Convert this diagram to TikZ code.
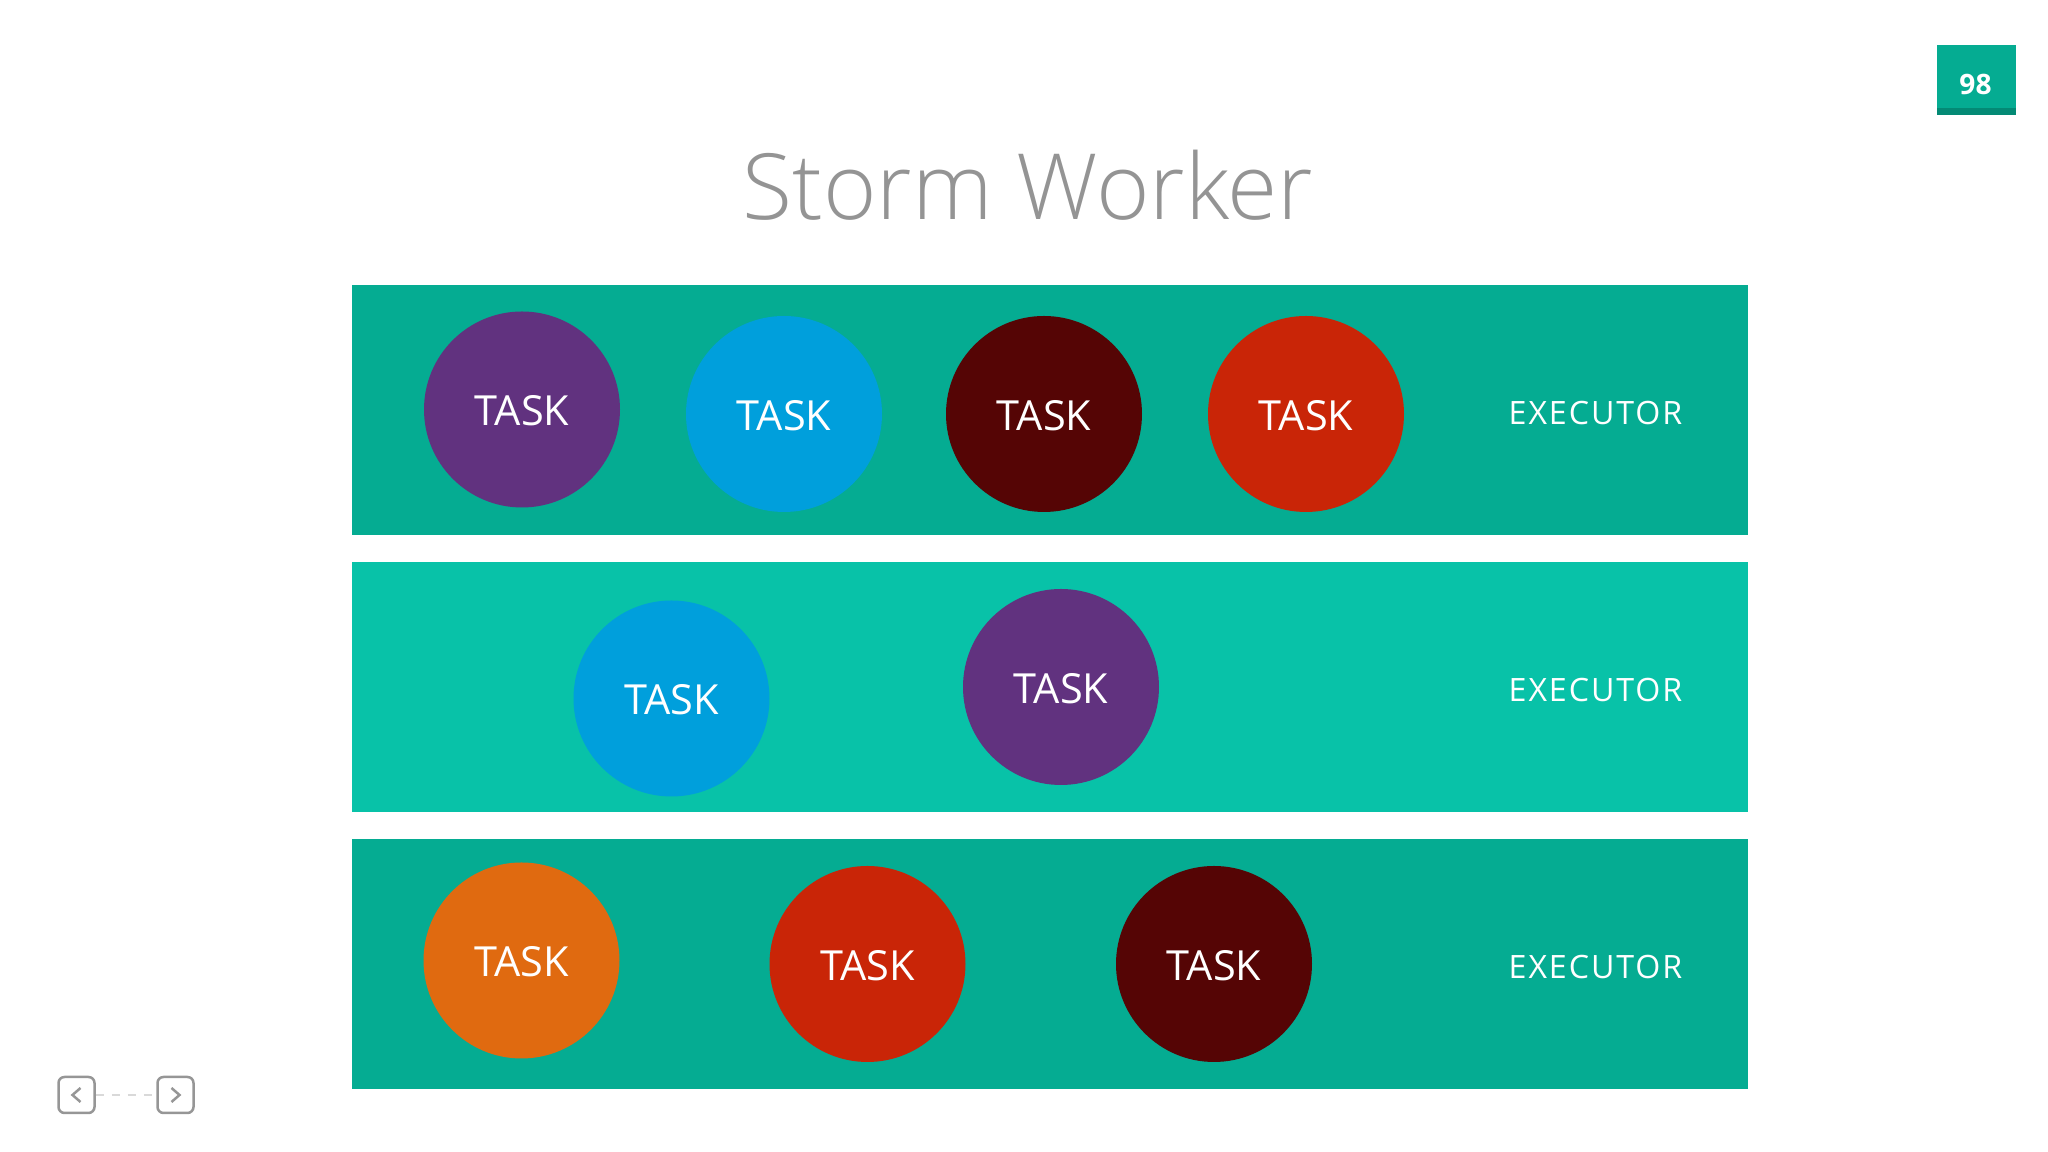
\documentclass[tikz,border=0pt]{standalone}
\usepackage{fontspec}
\setmainfont{Open Sans}
\newfontfamily\titlefont{Open Sans Light}
\newfontfamily\execfont[LetterSpace=6]{Open Sans}
\definecolor{banddark}{HTML}{05AC92}
\definecolor{bandlight}{HTML}{08C2A8}
\definecolor{taskpurple}{HTML}{61327F}
\definecolor{taskblue}{HTML}{009FDC}
\definecolor{taskmaroon}{HTML}{550505}
\definecolor{taskred}{HTML}{C92507}
\definecolor{taskorange}{HTML}{E06A10}
\definecolor{titlegray}{HTML}{949494}
\definecolor{navgray}{HTML}{969696}
\tikzset{
	band/.style={minimum width=14cm-0.04cm, minimum height=2.5cm, inner sep=0},
	task/.style={circle, minimum size=1.96cm, inner sep=0, text=white, text height=0.33cm, text depth=0cm, font=\fontsize{11.8}{14}\selectfont},
	execlabel/.style={text=white, font=\fontsize{9.15}{12}\execfont},
	navbox/.style={draw=navgray, line width=0.25mm, rounded corners=0.06cm, minimum size=0.36cm, inner sep=0}
}
\begin{document}
\begin{tikzpicture}
\useasboundingbox (0,0) rectangle (20.48,11.52);
\node[band, fill=banddark] (bandA) at (10.50,7.415){};
\node[band, fill=bandlight] (bandB) at (10.50,4.645){};
\node[band, fill=banddark] (bandC) at (10.50,1.875){};
\foreach \n/\y in {A/7.39,B/4.62,C/1.85}{
	\node[execlabel] (exec\n) at (15.955,\y){EXECUTOR};
}
\foreach \n/\x/\y/\c in {a/5.22/7.425/taskpurple,b/7.84/7.38/taskblue,c/10.44/7.38/taskmaroon,d/13.06/7.38/taskred,e/6.715/4.535/taskblue,f/10.61/4.65/taskpurple,g/5.215/1.915/taskorange,h/8.675/1.88/taskred,i/12.14/1.88/taskmaroon}{
	\node[task, fill=\c] (task\n) at (\x,\y){TASK};
}
\node[text=titlegray, font=\fontsize{26}{31}\titlefont] (title) at (10.28,9.67){Storm Worker};
% page number
\fill[banddark] (19.37,10.37) rectangle (20.16,11.07);
\fill[banddark!80!black] (19.37,10.37) rectangle (20.16,10.44);
\node[text=white, font=\fontsize{8}{10}\bfseries] (page) at (19.755,10.68){98};
% arrows at the bottom
\node[navbox] (navprev) at (0.765,0.57){};
\node[navbox] (navnext) at (1.755,0.57){};
\draw[black!15, line width=0.25mm, dash pattern=on 0.08cm off 0.08cm] (navprev)--(navnext);
\draw[navgray, line width=0.25mm] ([xshift=0.04cm,yshift=0.07cm]navprev.center)--++(-0.08,-0.07)--++(0.08,-0.07);
\draw[navgray, line width=0.25mm] ([xshift=-0.04cm,yshift=0.07cm]navnext.center)--++(0.08,-0.07)--++(-0.08,-0.07);
\end{tikzpicture}
\end{document}
